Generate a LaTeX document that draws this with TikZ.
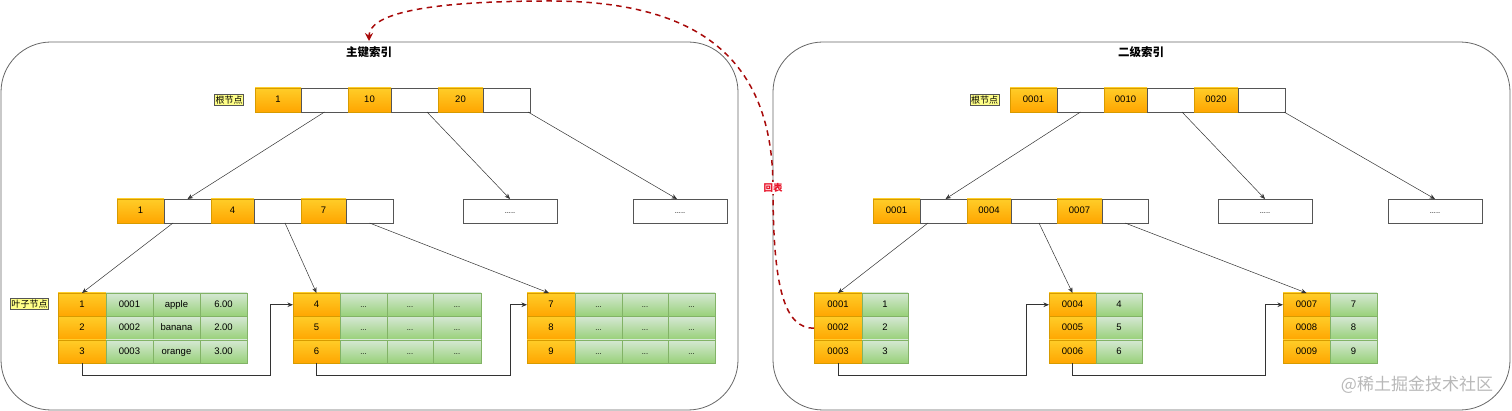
\documentclass[tikz,border=0pt]{standalone}
\usepackage{fontspec}
\setmainfont{Liberation Sans}
\newfontfamily\cjk{Noto Sans CJK SC}
\usetikzlibrary{arrows.meta,calc}
\definecolor{ortop}{HTML}{FFCD28}
\definecolor{orbot}{HTML}{FFA500}
\definecolor{orline}{HTML}{D79B00}
\definecolor{grtop}{HTML}{D5E8D4}
\definecolor{grbot}{HTML}{97D077}
\definecolor{grline}{HTML}{82B366}
\definecolor{boxline}{HTML}{555555}
\definecolor{panline}{HTML}{666666}
\definecolor{lblfill}{HTML}{FFFF88}
\definecolor{backred}{HTML}{A80A0A}
\definecolor{lblred}{HTML}{E8172C}
\newcommand\mycell[7]{%
  \pgfmathsetmacro\mycw{#4-#3}%
  \pgfmathsetmacro\mych{#6-#5}%
  \pgfmathsetmacro\mycx{(#3+#4)/2}%
  \pgfmathsetmacro\mycy{(#5+#6)/2}%
  \node[#2, minimum width=\mycw pt, minimum height=\mych pt] (#1) at (\mycx,\mycy) {#7};}
\begin{document}
\begin{tikzpicture}[x=1pt,y=-1pt,
  base/.style={inner sep=0pt, outer sep=0pt, line width=0.6pt, font=\fontsize{9.5}{11}\selectfont, text=black, text height=6.9pt, text depth=2pt},
  oc/.style={base, draw=orline, top color=ortop, bottom color=orbot},
  wc/.style={base, draw=boxline, fill=white},
  gc/.style={base, draw=grline, top color=grtop, bottom color=grbot},
  dotc/.style={base, draw=boxline, fill=white, font=\fontsize{7.5}{8}\selectfont},
  gdot/.style={gc, font=\fontsize{7.5}{8}\selectfont},
  tag/.style={draw=boxline, fill=lblfill, inner sep=1.2pt, line width=0.5pt, font=\cjk\fontsize{9}{10}\selectfont},
  panel/.style={draw=panline, line width=0.8pt, rounded corners=50pt, inner sep=0pt},
  ptitle/.style={font=\cjk\bfseries\fontsize{11.5}{13}\selectfont},
  tedge/.style={draw=black!80, line width=0.5pt, -{Stealth[length=5.5pt,width=4.5pt]}},
  link/.style={draw=black!80, line width=0.6pt, -{Stealth[length=5.5pt,width=4.5pt]}},
  back/.style={draw=backred, line width=1.5pt, dash pattern=on 5.5pt off 4.5pt, -{Stealth[length=8pt,width=8pt]}}
]
\useasboundingbox (0,0) rectangle (1512,411);
% panels
\node[panel, minimum width=737pt, minimum height=368pt] (P1) at (369.5,226) {};
\node[panel, minimum width=737pt, minimum height=368pt] (P2) at (1141.5,226) {};
\node[ptitle] (T1) at (369,52) {主键索引};
\node[ptitle] (T2) at (1141,52) {二级索引};
% ---------- left: primary index ----------
\mycell{Lr1}{oc}{255}{301}{88}{112}{1}
\mycell{Lr1w}{wc}{301}{348}{88}{112}{}
\mycell{Lr2}{oc}{348}{391}{88}{112}{10}
\mycell{Lr2w}{wc}{391}{438}{88}{112}{}
\mycell{Lr3}{oc}{438}{483}{88}{112}{20}
\mycell{Lr3w}{wc}{483}{530}{88}{112}{}
\node[tag] (Ltag1) at (229,100) {根节点};
\mycell{La1}{oc}{117}{164}{199}{223}{1}
\mycell{La1w}{wc}{164}{211}{199}{223}{}
\mycell{La2}{oc}{211}{254}{199}{223}{4}
\mycell{La2w}{wc}{254}{301}{199}{223}{}
\mycell{La3}{oc}{301}{346}{199}{223}{7}
\mycell{La3w}{wc}{346}{393}{199}{223}{}
\mycell{Ld1}{dotc}{463}{557}{199}{223}{.....}
\mycell{Ld2}{dotc}{633}{727}{199}{223}{.....}
% leaf 1
\mycell{L1o1}{oc}{58}{106}{293}{316.5}{1}
\mycell{L1o2}{oc}{58}{106}{316.5}{340}{2}
\mycell{L1o3}{oc}{58}{106}{340}{363.5}{3}
\mycell{L1a1}{gc}{106}{153}{293}{316.5}{0001}
\mycell{L1a2}{gc}{106}{153}{316.5}{340}{0002}
\mycell{L1a3}{gc}{106}{153}{340}{363.5}{0003}
\mycell{L1b1}{gc}{153}{200}{293}{316.5}{apple}
\mycell{L1b2}{gc}{153}{200}{316.5}{340}{banana}
\mycell{L1b3}{gc}{153}{200}{340}{363.5}{orange}
\mycell{L1c1}{gc}{200}{247}{293}{316.5}{6.00}
\mycell{L1c2}{gc}{200}{247}{316.5}{340}{2.00}
\mycell{L1c3}{gc}{200}{247}{340}{363.5}{3.00}
\node[tag] (Ltag2) at (29.5,304) {叶子节点};
% leaf 2
\mycell{L2o1}{oc}{293}{340}{293}{316.5}{4}
\mycell{L2o2}{oc}{293}{340}{316.5}{340}{5}
\mycell{L2o3}{oc}{293}{340}{340}{363.5}{6}
\foreach \r/\ya/\yb in {1/293/316.5,2/316.5/340,3/340/363.5}{
  \mycell{L2a\r}{gdot}{340}{387}{\ya}{\yb}{...}
  \mycell{L2b\r}{gdot}{387}{433}{\ya}{\yb}{...}
  \mycell{L2c\r}{gdot}{433}{481}{\ya}{\yb}{...}
}
% leaf 3
\mycell{L3o1}{oc}{527}{575}{293}{316.5}{7}
\mycell{L3o2}{oc}{527}{575}{316.5}{340}{8}
\mycell{L3o3}{oc}{527}{575}{340}{363.5}{9}
\foreach \r/\ya/\yb in {1/293/316.5,2/316.5/340,3/340/363.5}{
  \mycell{L3a\r}{gdot}{575}{622}{\ya}{\yb}{...}
  \mycell{L3b\r}{gdot}{622}{668}{\ya}{\yb}{...}
  \mycell{L3c\r}{gdot}{668}{715}{\ya}{\yb}{...}
}
% left edges
\draw[tedge] (Lr1w.south) -- (La1w.north);
\draw[tedge] ([xshift=12.5pt]Lr2w.south) -- (Ld1.north);
\draw[tedge] ([xshift=-2pt]Lr3w.south east) -- ([xshift=-3pt]Ld2.north);
\draw[tedge] ([xshift=-14.5pt]La1w.south) -- (L1o1.north);
\draw[tedge] ([xshift=7.5pt]La2w.south) -- (L2o1.north);
\draw[tedge] (La3w.south) -- ([xshift=-2pt]L3o1.north);
\coordinate (cl1) at (270,375);
\coordinate (cl2) at (510,375);
\draw[link] (L1o3.south) |- (cl1) |- (L2o1.west);
\draw[link] (L2o3.south) |- (cl2) |- (L3o1.west);
% ---------- right: secondary index ----------
\mycell{Rr1}{oc}{1010}{1057}{88}{112}{0001}
\mycell{Rr1w}{wc}{1057}{1104}{88}{112}{}
\mycell{Rr2}{oc}{1104}{1147}{88}{112}{0010}
\mycell{Rr2w}{wc}{1147}{1194}{88}{112}{}
\mycell{Rr3}{oc}{1194}{1238}{88}{112}{0020}
\mycell{Rr3w}{wc}{1238}{1285}{88}{112}{}
\node[tag] (Rtag1) at (984.5,100) {根节点};
\mycell{Ra1}{oc}{873}{920}{199}{223}{0001}
\mycell{Ra1w}{wc}{920}{967}{199}{223}{}
\mycell{Ra2}{oc}{967}{1011}{199}{223}{0004}
\mycell{Ra2w}{wc}{1011}{1057}{199}{223}{}
\mycell{Ra3}{oc}{1057}{1102}{199}{223}{0007}
\mycell{Ra3w}{wc}{1102}{1148}{199}{223}{}
\mycell{Rd1}{dotc}{1218}{1312}{199}{223}{.....}
\mycell{Rd2}{dotc}{1388}{1482}{199}{223}{.....}
\foreach \r/\ya/\yb/\ka/\kb/\kc in {1/293/316.5/1/4/7,2/316.5/340/2/5/8,3/340/363.5/3/6/9}{
  \mycell{R1o\r}{oc}{814}{862}{\ya}{\yb}{000\ka}
  \mycell{R1g\r}{gc}{862}{908}{\ya}{\yb}{\ka}
  \mycell{R2o\r}{oc}{1049}{1096}{\ya}{\yb}{000\kb}
  \mycell{R2g\r}{gc}{1096}{1142}{\ya}{\yb}{\kb}
  \mycell{R3o\r}{oc}{1283}{1330}{\ya}{\yb}{000\kc}
  \mycell{R3g\r}{gc}{1330}{1377}{\ya}{\yb}{\kc}
}
% right edges
\draw[tedge] (Rr1w.south) -- ([xshift=2pt]Ra1w.north);
\draw[tedge] ([xshift=11.5pt]Rr2w.south) -- (Rd1.north);
\draw[tedge] ([xshift=-1pt]Rr3w.south east) -- (Rd2.north);
\draw[tedge] ([xshift=-15.5pt]Ra1w.south) -- (R1o1.north);
\draw[tedge] ([xshift=5pt]Ra2w.south) -- (R2o1.north);
\draw[tedge] (Ra3w.south) -- (R3o1.north);
\coordinate (cr1) at (1026,375);
\coordinate (cr2) at (1265,375);
\draw[link] (R1o3.south) |- (cr1) |- (R2o1.west);
\draw[link] (R2o3.south) |- (cr2) |- (R3o1.west);
% back-to-table curve
\coordinate (cmid) at (773,188);
\coordinate (ctop) at (550,1);
\coordinate (cend) at (369,41);
\draw[back] (R1o2.west) .. controls (785,328.25) and (773,290) .. (cmid)
  .. controls (773,60) and (700,1) .. (ctop)
  .. controls (420,1) and (369,15) .. (cend);
\node[fill=white, inner sep=1pt, text=lblred, font=\cjk\bfseries\fontsize{9.5}{10}\selectfont] (lbl) at (cmid) {回表};
% watermark
\node[text=black!28, font=\cjk\fontsize{17}{18}\selectfont] (wm) at (1417,385) {@稀土掘金技术社区};
\end{tikzpicture}
\end{document}
